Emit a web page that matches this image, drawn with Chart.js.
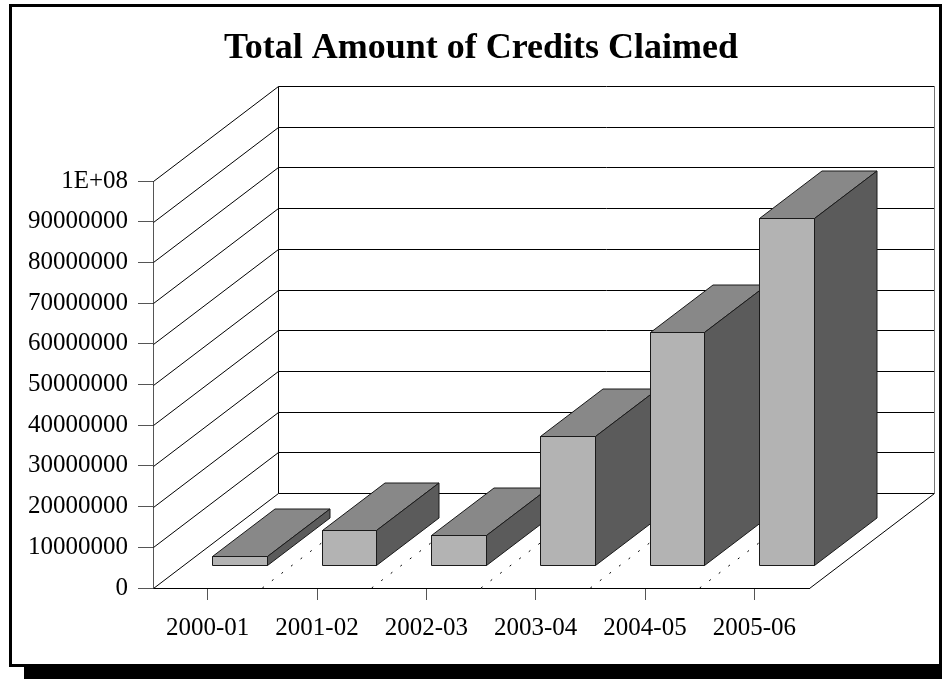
<!DOCTYPE html>
<html>
<head>
<meta charset="utf-8">
<title>Total Amount of Credits Claimed</title>
<script src="https://cdn.jsdelivr.net/npm/chart.js@4.4.0/dist/chart.umd.min.js"></script>
<style>
  html, body { margin: 0; padding: 0; background: #fff; }
  canvas { display: block; }
</style>
</head>
<body>
<canvas id="chart" width="942" height="679" style="width:942px;height:679px"></canvas>
<script>
// Data
const categories = ['2000-01', '2001-02', '2002-03', '2003-04', '2004-05', '2005-06'];
const credits = [2200000, 8500000, 7400000, 31600000, 57300000, 85200000];
const yTickLabels = ['0', '10000000', '20000000', '30000000', '40000000', '50000000',
  '60000000', '70000000', '80000000', '90000000', '1E+08'];

// 3D look (offsets of the depth axis)
const WALL = { dx: 125, dy: -95 };       // front plane -> back wall
const BAR_FRONT = { dx: 32, dy: -23 };   // front plane -> bar front face
const BAR_DEPTH = { dx: 62.5, dy: -47.5 }; // bar front face -> bar back face
const FACE = { front: '#b3b3b3', top: '#888888', side: '#5b5b5b', edge: '#1a1a1a' };
const SERIF = "'Liberation Serif', 'Times New Roman', serif";

function px(v) { return Math.round(v) + 0.5; }

// white page, border and drop shadow
const frame = {
  id: 'frame',
  beforeDraw(chart) {
    const { ctx, width, height } = chart;
    ctx.save();
    ctx.fillStyle = '#fff';
    ctx.fillRect(0, 0, width, height);
    ctx.fillStyle = '#000';
    ctx.fillRect(24, 667, width - 24, height - 667);
    ctx.lineWidth = 3;
    ctx.strokeStyle = '#000';
    ctx.strokeRect(10.5, 5.5, 930, 660);
    ctx.restore();
  }
};

// side wall, back wall, floor
const walls = {
  id: 'walls',
  beforeDatasetsDraw(chart) {
    const { ctx, chartArea: a, scales: { x, y } } = chart;
    const l = px(a.left), r = px(a.right);
    ctx.save();
    ctx.lineWidth = 1;
    ctx.strokeStyle = '#000';
    ctx.beginPath();
    y.ticks.forEach(t => {
      const py = px(y.getPixelForValue(t.value));
      ctx.moveTo(l, py);
      ctx.lineTo(l + WALL.dx, py + WALL.dy);
      ctx.lineTo(r + WALL.dx, py + WALL.dy);
    });
    const top = px(a.top), bot = px(a.bottom);
    ctx.moveTo(l + WALL.dx, top + WALL.dy);
    ctx.lineTo(l + WALL.dx, bot + WALL.dy);
    ctx.moveTo(r, bot);
    ctx.lineTo(r + WALL.dx, bot + WALL.dy);
    ctx.stroke();

    ctx.strokeStyle = '#777';
    ctx.beginPath();
    ctx.moveTo(r + WALL.dx, top + WALL.dy);
    ctx.lineTo(r + WALL.dx, bot + WALL.dy);
    ctx.stroke();

    // dotted dividers on the floor
    ctx.strokeStyle = '#000';
    ctx.setLineDash([2, 10]);
    ctx.beginPath();
    for (let i = 1; i < categories.length; i++) {
      const bx = (x.getPixelForValue(i - 1) + x.getPixelForValue(i)) / 2;
      ctx.moveTo(bx, a.bottom);
      ctx.lineTo(bx + WALL.dx, a.bottom + WALL.dy);
    }
    ctx.stroke();
    ctx.restore();
  }
};

function face(ctx, pts, fill) {
  ctx.beginPath();
  ctx.moveTo(pts[0][0], pts[0][1]);
  for (let i = 1; i < pts.length; i++) ctx.lineTo(pts[i][0], pts[i][1]);
  ctx.closePath();
  ctx.fillStyle = fill;
  ctx.fill();
  ctx.stroke();
}

// boxes drawn left to right so later bars cover earlier sides
const bars3d = {
  id: 'bars3d',
  afterDatasetsDraw(chart) {
    const { ctx } = chart;
    const meta = chart.getDatasetMeta(0);
    ctx.save();
    ctx.lineWidth = 1;
    ctx.strokeStyle = FACE.edge;
    ctx.lineJoin = 'round';
    meta.data.forEach(bar => {
      const { x, y, base, width } = bar.getProps(['x', 'y', 'base', 'width'], true);
      const l = px(x - width / 2 + BAR_FRONT.dx), r = px(x + width / 2 + BAR_FRONT.dx);
      const t = px(y + BAR_FRONT.dy), b = px(base + BAR_FRONT.dy);
      const dx = BAR_DEPTH.dx, dy = BAR_DEPTH.dy;
      face(ctx, [[l, t], [r, t], [r, b], [l, b]], FACE.front);
      face(ctx, [[l, t], [l + dx, t + dy], [r + dx, t + dy], [r, t]], FACE.top);
      face(ctx, [[r, t], [r + dx, t + dy], [r + dx, b + dy], [r, b]], FACE.side);
    });
    ctx.restore();
  }
};

const tickFont = { family: SERIF, size: 25 };

new Chart(document.getElementById('chart'), {
  type: 'bar',
  data: {
    labels: categories,
    datasets: [{
      label: 'Total Amount of Credits Claimed',
      data: credits,
      backgroundColor: 'rgba(0,0,0,0)',
      borderWidth: 0,
      barPercentage: 0.5,
      categoryPercentage: 1
    }]
  },
  options: {
    responsive: false,
    animation: false,
    layout: { padding: { left: 0, right: 133, top: 0, bottom: 31 } },
    plugins: {
      legend: { display: false },
      tooltip: { enabled: false },
      title: {
        display: true,
        fullSize: false,
        text: 'Total Amount of Credits Claimed',
        color: '#000',
        font: { family: SERIF, size: 36, weight: 'bold' },
        padding: { top: 27, bottom: 110.8 }
      }
    },
    scales: {
      x: {
        grid: { offset: false, drawOnChartArea: false, tickLength: 12, color: '#555' },
        border: { color: '#000' },
        ticks: { color: '#000', padding: 13, font: tickFont, maxRotation: 0 },
        afterFit: s => { s.height = 60; }
      },
      y: {
        min: 0,
        max: 100000000,
        ticks: {
          stepSize: 10000000,
          color: '#000',
          padding: 10,
          font: tickFont,
          callback: (v, i) => yTickLabels[i]
        },
        grid: { drawOnChartArea: false, tickLength: 15, color: '#555' },
        border: { color: '#555' },
        afterFit: s => { s.width = 153; }
      }
    }
  },
  plugins: [frame, walls, bars3d]
});
</script>
</body>
</html>
